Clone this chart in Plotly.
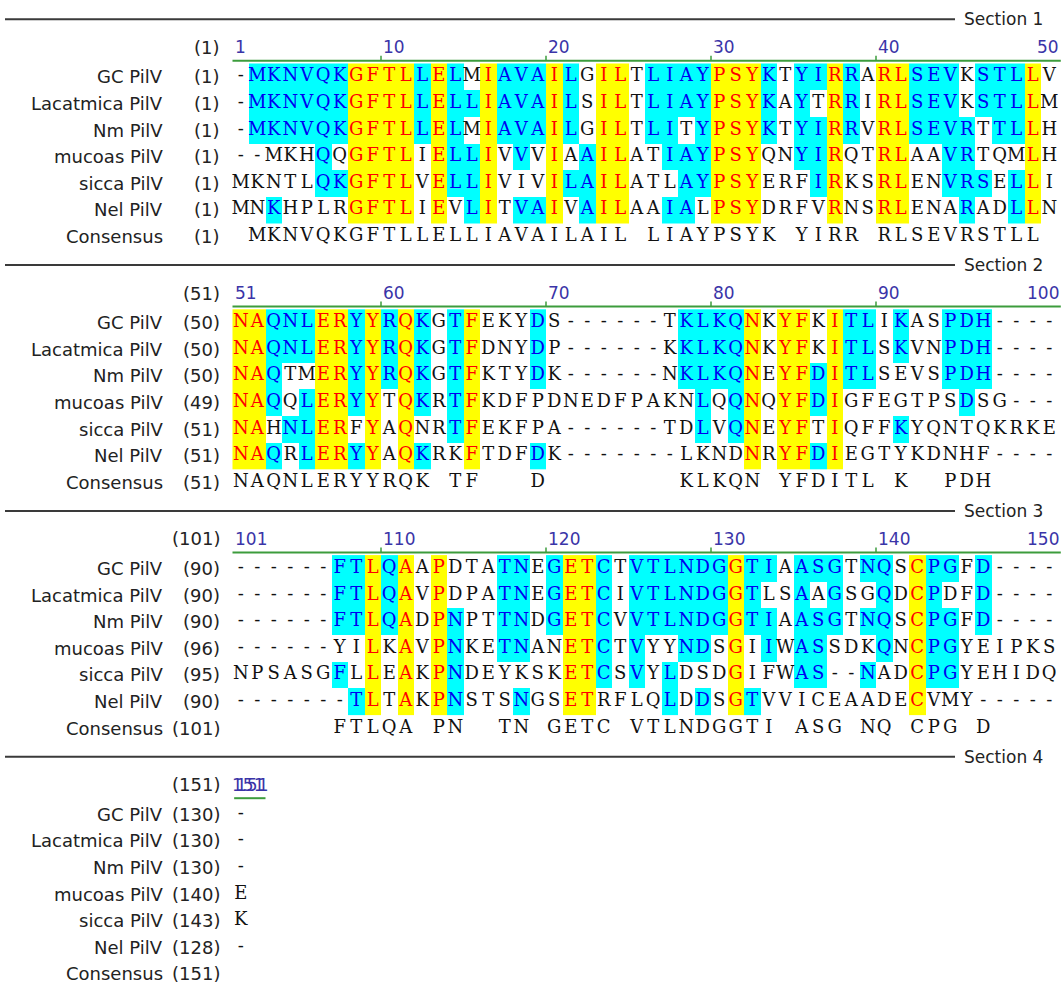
import plotly.graph_objects as go

# ---------------- data ----------------
seq_names = ["GC PilV", "Lacatmica PilV", "Nm PilV", "mucoas PilV", "sicca PilV", "Nel PilV"]
consensus_name = "Consensus"
section_titles = ["Section 1", "Section 2", "Section 3", "Section 4"]
section_first_col = [1, 51, 101, 151]

section1_rows = [
    "-MKNVQKGFTLLELMIAVAILGILTLIAYPSYKTYIRRARLSEVKSTLLV",
    "-MKNVQKGFTLLELLIAVAILSILTLIAYPSYKAYTRRIRLSEVKSTLLM",
    "-MKNVQKGFTLLELMIAVAILGILTLITYPSYKTYIRRVRLSEVRTTLLH",
    "--MKHQQGFTLIELLIVVVIAAILATIAYPSYQNYIRQTRLAAVRTQMLH",
    "MKNTLQKGFTLVELLIVIVILAILATLAYPSYERFIRKSRLENVRSELLI",
    "MNKHPLRGFTLIEVLITVAIVAILAAIALPSYDRFVRNSRLENARADLLN",
]
section1_consensus = " MKNVQKGFTLLELLIAVAILAIL LIAYPSYK YIRR RLSEVRSTLL "

section2_rows = [
    "NAQNLERYYRQKGTFEKYDS------TKLKQNKYFKITLIKASPDH----",
    "NAQNLERYYRQKGTFDNYDP------KKLKQNKYFKITLSKVNPDH----",
    "NAQTMERYYRQKGTFKTYDK------NKLKQNEYFDITLSEVSPDH----",
    "NAQQLERYYTQKRTFKDFPDNEDFPAKNLQQNQYFDIGFEGTPSDSG---",
    "NAHNLERFYAQNRTFEKFPA------TDLVQNEYFTIQFFKYQNTQKRKE",
    "NAQRLERYYAQKRKFTDFDK-------LKNDNRYFDIEGTYKDNHF----",
]
section2_consensus = "NAQNLERYYRQK TF   D        KLKQN YFDITL K  PDH    "

section3_rows = [
    "------FTLQAAPDTATNEGETCTVTLNDGGTIAASGTNQSCPGFD----",
    "------FTLQAVPDPATNEGETCIVTLNDGGTLSAAGSGQDCPDFD----",
    "------FTLQADPNPTTNDGETCVVTLNDGGTIAASGTNQSCPGFD----",
    "------YILKAVPNKETNANETCTVYYNDSGIIWASSDKQNCPGYEIPKS",
    "NPSASGFLLEAKPNDEYKSKETCSVYLDSDGIFWAS--NADCPGYEHIDQ",
    "-------TLTAKPNSTSNGSETRFLQLDDSGTVVICEAADECVMY-----",
]
section3_consensus = "      FTLQA PN  TN GETC VTLNDGGTI ASG NQ CPG D    "

section4_rows = ["-", "-", "-", "E", "K", "-"]
section4_consensus = " "

# start residue numbers shown in brackets (6 sequences + consensus)
section1_starts = [1, 1, 1, 1, 1, 1, 1]
section2_starts = [50, 50, 50, 49, 51, 51, 51]
section3_starts = [90, 90, 90, 96, 95, 90, 101]
section4_starts = [130, 130, 130, 140, 143, 128, 151]

sections = [
    (section1_rows, section1_consensus, section1_starts),
    (section2_rows, section2_consensus, section2_starts),
    (section3_rows, section3_consensus, section3_starts),
    (section4_rows, section4_consensus, section4_starts),
]

# ---------------- layout constants ----------------
W, H = 1064, 985
COLW = 16.5          # px per alignment column
X0 = 232.5           # px left edge of first column
col_lo = 0.5 - X0 / COLW
col_hi = 0.5 + (W - X0) / COLW
SEC_TOP = 19.3
SEC_PITCH = 245.8
ROW_H = 26.6
NAME_X = 165
NUM_X = 222

CYAN = "#00FFFF"
YELLOW = "#FFFF00"
RED = "#FF0000"
BLUE = "#0000F0"
BLACK = "#111111"
NUMCOL = "#3a34a8"
GREEN = "#3c9c3c"
LABEL_FONT = "DejaVu Sans"
SEQ_FONT = "DejaVu Serif"

fig = go.Figure()
shapes = []
annotations = []

tx, ty, tt, tc = [], [], [], []

for s, (rows, cons, starts) in enumerate(sections):
    top = SEC_TOP + s * SEC_PITCH
    num_y = top + 28
    green_y = top + 41.5
    row_y = [top + 57.5 + i * ROW_H for i in range(7)]
    ncol = len(cons)
    first = section_first_col[s]

    # classify columns: 2 = identical in all, 1 = matches consensus, 0 = none
    ident = []
    for j in range(ncol):
        chars = set(r[j] for r in rows)
        ident.append(len(chars) == 1 and rows[0][j] != "-")
    z = []
    for i, r in enumerate(rows):
        zr = []
        for j, ch in enumerate(r):
            if ident[j]:
                cls = 2
            elif ch != "-" and ch == cons[j]:
                cls = 1
            else:
                cls = 0
            zr.append(cls if cls else None)
            tx.append(j + 1)
            ty.append(row_y[i])
            tt.append(ch)
            tc.append(RED if cls == 2 else BLUE if cls == 1 else BLACK)
        z.append(zr)
    for j, ch in enumerate(cons):
        if ch != " ":
            tx.append(j + 1)
            ty.append(row_y[6])
            tt.append(ch)
            tc.append(BLACK)

    if any(v is not None for zr in z for v in zr):
        fig.add_trace(go.Heatmap(
            x=list(range(1, ncol + 1)), y=row_y[:6], z=z,
            zmin=1, zmax=2, showscale=False, hoverinfo="skip",
            colorscale=[[0, CYAN], [0.5, CYAN], [0.5, YELLOW], [1, YELLOW]],
            xgap=0, ygap=0,
        ))

    # section separator + title
    shapes.append(dict(type="line", xref="x2", yref="y", x0=5, x1=955, y0=top, y1=top,
                       line=dict(color="#3a3a3a", width=2)))
    annotations.append(dict(xref="x2", yref="y", x=962, y=top, text=section_titles[s],
                            showarrow=False, xanchor="left", yanchor="middle",
                            font=dict(family=LABEL_FONT, size=17, color="#222")))

    # header ruler
    annotations.append(dict(xref="x2", yref="y", x=NUM_X, y=num_y, text="(%d)" % first,
                            showarrow=False, xanchor="right", yanchor="middle",
                            font=dict(family=LABEL_FONT, size=18, color="#222")))
    if ncol > 1:
        shapes.append(dict(type="line", xref="x", yref="y", x0=0.5, x1=ncol + 0.7,
                           y0=green_y, y1=green_y, line=dict(color=GREEN, width=2)))
        annotations.append(dict(xref="x", yref="y", x=0.5, y=num_y, text=str(first),
                                showarrow=False, xanchor="left", yanchor="middle",
                                font=dict(family=LABEL_FONT, size=17, color=NUMCOL)))
        for k in range(10, ncol, 10):
            annotations.append(dict(xref="x", yref="y", x=k - 0.5, y=num_y,
                                    text=str(first + k - 1), showarrow=False,
                                    xanchor="left", yanchor="middle",
                                    font=dict(family=LABEL_FONT, size=17, color=NUMCOL)))
            shapes.append(dict(type="line", xref="x", yref="y", x0=k - 0.5, x1=k - 0.5,
                               y0=green_y - 5, y1=green_y, line=dict(color=GREEN, width=1.5)))
        annotations.append(dict(xref="x", yref="y", x=ncol + 0.7, y=num_y,
                                text=str(first + ncol - 1), showarrow=False,
                                xanchor="right", yanchor="middle",
                                font=dict(family=LABEL_FONT, size=17, color=NUMCOL)))
    else:
        shapes.append(dict(type="line", xref="x", yref="y", x0=0.6, x1=2.5,
                           y0=green_y, y1=green_y, line=dict(color=GREEN, width=2)))
        annotations.append(dict(xref="x", yref="y", x=0.6, y=num_y, text=str(first),
                                showarrow=False, xanchor="left", yanchor="middle",
                                font=dict(family=LABEL_FONT, size=17, color=NUMCOL)))
        annotations.append(dict(xref="x", yref="y", x=2.5, y=num_y, text=str(first),
                                showarrow=False, xanchor="right", yanchor="middle",
                                font=dict(family=LABEL_FONT, size=17, color=NUMCOL)))

    # row labels
    labels = seq_names + [consensus_name]
    for i in range(7):
        annotations.append(dict(xref="x2", yref="y", x=NAME_X, y=row_y[i], text=labels[i],
                                showarrow=False, xanchor="right", yanchor="middle",
                                font=dict(family=LABEL_FONT, size=18, color="#222")))
        annotations.append(dict(xref="x2", yref="y", x=NUM_X, y=row_y[i],
                                text="(%d)" % starts[i], showarrow=False,
                                xanchor="right", yanchor="middle",
                                font=dict(family=LABEL_FONT, size=18, color="#222")))

fig.add_trace(go.Scatter(
    x=tx, y=ty, text=tt, mode="text", textposition="middle center",
    textfont=dict(family=SEQ_FONT, size=18, color=tc), hoverinfo="skip",
))

fig.update_layout(
    width=W, height=H,
    margin=dict(l=0, r=0, t=0, b=0),
    paper_bgcolor="white", plot_bgcolor="white",
    showlegend=False,
    xaxis=dict(range=[col_lo, col_hi], visible=False, fixedrange=True),
    xaxis2=dict(range=[0, W], visible=False, overlaying="x", fixedrange=True),
    yaxis=dict(range=[H, 0], visible=False, fixedrange=True),
    shapes=shapes, annotations=annotations,
)
# invisible helper trace so that the pixel axis x2 is active
fig.add_trace(go.Scatter(x=[0], y=[0], xaxis="x2", mode="markers",
                         marker=dict(opacity=0), hoverinfo="skip"))

fig.write_html(
    "out.html",
    config={"displayModeBar": False, "staticPlot": True},
    post_script="document.body.style.margin='0';document.body.style.overflow='hidden';",
)
